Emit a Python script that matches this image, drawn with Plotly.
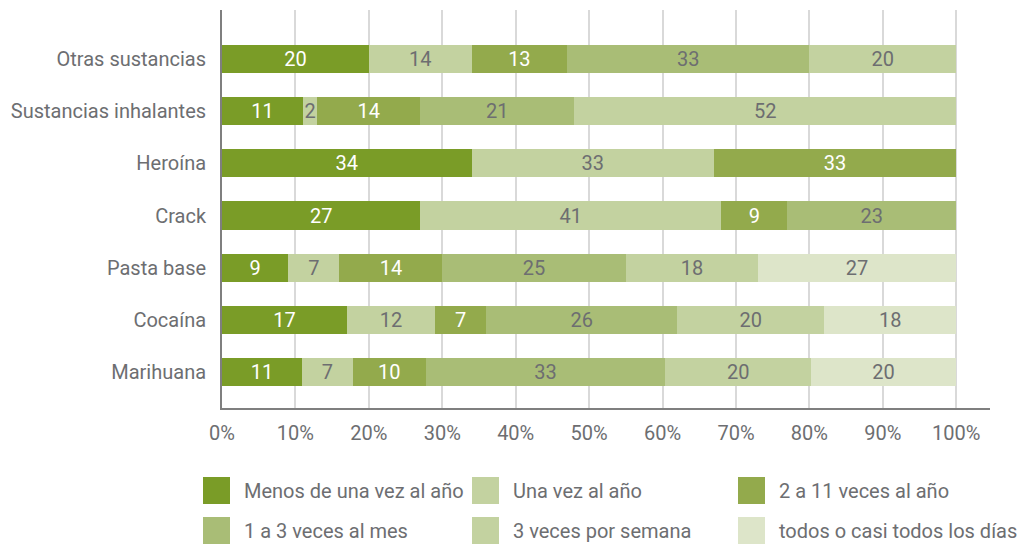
import plotly.graph_objects as go

categories = ["Otras sustancias", "Sustancias inhalantes", "Heroína", "Crack",
              "Pasta base", "Cocaína", "Marihuana"]

series_names = ["Menos de una vez al año", "Una vez al año", "2 a 11 veces al año",
                "1 a 3 veces al mes", "3 veces por semana", "todos o casi todos los días"]

menos_una_vez = [20, 11, 34, 27, 9, 17, 11]
una_vez = [14, 2, 33, 41, 7, 12, 7]
dos_a_once = [13, 14, 33, 9, 14, 7, 10]
uno_a_tres_mes = [33, 21, None, 23, 25, 26, 33]
tres_semana = [20, 52, None, None, 18, 20, 20]
casi_todos = [None, None, None, None, 27, 18, 20]

series_values = [menos_una_vez, una_vez, dos_a_once, uno_a_tres_mes, tres_semana, casi_todos]

x_ticks = [0, 10, 20, 30, 40, 50, 60, 70, 80, 90, 100]
x_tick_labels = [f"{t}%" for t in x_ticks]

COLORS = ["#7a9c27", "#c3d2a0", "#93aa4c", "#a9bd76", "#c3d2a0", "#dde5c9"]
TEXT_COLORS = ["#ffffff", "#6d6e71", "#ffffff", "#6d6e71", "#6d6e71", "#6d6e71"]
GRAY = "#6d6e71"
FONT = "Roboto, Arial, sans-serif"

W, H = 1021, 547
L, R, T, B = 222, 31, 10, 139

fig = go.Figure()
for name, vals, color, tcolor in zip(series_names, series_values, COLORS, TEXT_COLORS):
    fig.add_trace(go.Bar(
        y=categories,
        x=vals,
        name=name,
        orientation="h",
        marker=dict(color=color, line=dict(width=0)),
        text=[str(v) if v else "" for v in vals],
        textposition="inside",
        insidetextanchor="middle",
        textangle=0,
        constraintext="none",
        textfont=dict(color=tcolor, size=20, family=FONT),
        showlegend=False,
    ))

# custom legend (big square swatches like the original)
def px_to_paper(px, py):
    return (px - L) / (W - L - R), (H - B - py) / (H - T - B)

col_x = [203, 472, 738]
row_y = [477, 517]
sw = 27
for i, (name, color) in enumerate(zip(series_names, COLORS)):
    cx = col_x[i % 3]
    ry = row_y[i // 3]
    x0, y1 = px_to_paper(cx, ry)
    x1, y0 = px_to_paper(cx + sw, ry + sw)
    fig.add_shape(type="rect", xref="paper", yref="paper",
                  x0=x0, x1=x1, y0=y0, y1=y1,
                  fillcolor=color, line=dict(width=0))
    tx, ty = px_to_paper(cx + 39, ry + sw / 2)
    fig.add_annotation(xref="paper", yref="paper", x=tx, y=ty,
                       text=name, showarrow=False, xanchor="left", yanchor="middle",
                       font=dict(size=20, color=GRAY, family=FONT))

fig.update_layout(
    width=W, height=H,
    barmode="stack",
    barnorm="percent",
    bargap=0.46,
    paper_bgcolor="white",
    plot_bgcolor="white",
    margin=dict(l=L, r=R, t=T, b=B, pad=0),
    font=dict(family=FONT, color=GRAY, size=20),
    xaxis=dict(
        range=[0, 104.6],
        tickvals=x_ticks,
        ticktext=x_tick_labels,
        showgrid=True,
        gridcolor="#d9d9d9",
        gridwidth=2,
        showline=True,
        linecolor="#7f7f7f",
        linewidth=2,
        zeroline=False,
        ticks="",
        ticklabelstandoff=6,
        tickfont=dict(size=20, color=GRAY, family=FONT),
    ),
    yaxis=dict(
        categoryorder="array",
        categoryarray=list(reversed(categories)),
        range=[-0.69, 6.94],
        showline=True,
        linecolor="#7f7f7f",
        linewidth=2,
        showgrid=False,
        ticks="",
        ticksuffix="  ",
        tickfont=dict(size=20, color=GRAY, family=FONT),
    ),
    showlegend=False,
)

fig.write_html("out.html", config={"displayModeBar": False},
               post_script="document.body.style.margin='0';")
